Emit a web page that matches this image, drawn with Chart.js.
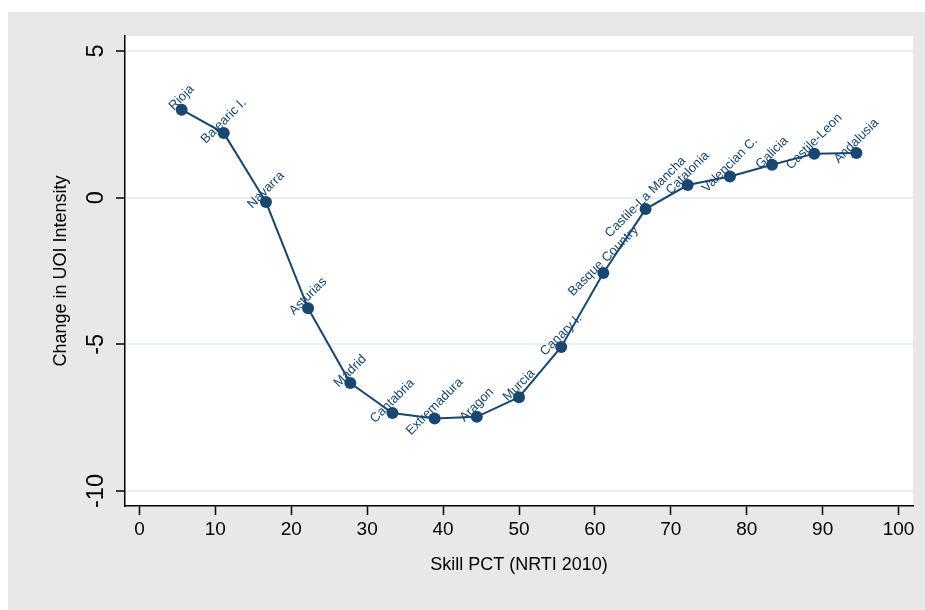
<!DOCTYPE html>
<html>
  <head>
    <title>Change in UOI Intensity vs Skill PCT</title>
    <script src="https://cdn.jsdelivr.net/npm/chart.js"></script>
    <style>
      body { margin: 0; background: #fff; }
      .chart-container { width: 925px; height: 610px; }
    </style>
  </head>
  <body>
    <div class="chart-container">
      <canvas id="uoi-chart" width="925" height="610"></canvas>
    </div>

    <script>
      // Regions ordered by skill percentile
      const regions = ['Rioja', 'Balearic I.', 'Navarra', 'Asturias', 'Madrid', 'Cantabria',
        'Extremadura', 'Aragon', 'Murcia', 'Canary I.', 'Basque Country', 'Castile-La Mancha',
        'Catalonia', 'Valencian C.', 'Galicia', 'Castile-Leon', 'Andalusia'];
      const skillPct = [5.56, 11.11, 16.67, 22.22, 27.78, 33.33, 38.89, 44.44, 50,
        55.56, 61.11, 66.67, 72.22, 77.78, 83.33, 88.89, 94.44];
      const uoiChange = [3.0, 2.2, -0.15, -3.77, -6.32, -7.34, -7.53, -7.47, -6.8,
        -5.09, -2.57, -0.39, 0.43, 0.72, 1.12, 1.5, 1.52];

      const xTicks = [0, 10, 20, 30, 40, 50, 60, 70, 80, 90, 100];
      const yTicks = [-10, -5, 0, 5];

      const navy = '#1a476f';
      const fontFamily = '"Liberation Sans", Arial, sans-serif';

      // gray graph region + white plot region, like Stata
      const backgroundPlugin = {
        id: 'background',
        beforeDraw(chart) {
          const { ctx, chartArea } = chart;
          ctx.save();
          ctx.fillStyle = '#fff';
          ctx.fillRect(0, 0, chart.width, chart.height);
          ctx.fillStyle = '#e8e8e8';
          ctx.fillRect(8, 12, chart.width - 8, chart.height - 12);
          ctx.fillStyle = '#fff';
          ctx.fillRect(chartArea.left, chartArea.top, chartArea.right - chartArea.left, chartArea.bottom - chartArea.top);
          ctx.restore();
        }
      };

      // region names, rotated 45 degrees above each marker
      const pointLabelPlugin = {
        id: 'pointLabels',
        beforeDatasetsDraw(chart) {
          const ctx = chart.ctx;
          const meta = chart.getDatasetMeta(0);
          ctx.save();
          ctx.font = '13px ' + fontFamily;
          ctx.fillStyle = navy;
          ctx.textAlign = 'center';
          ctx.textBaseline = 'middle';
          meta.data.forEach((pt, i) => {
            ctx.save();
            ctx.translate(pt.x, pt.y - 12);
            ctx.rotate(-Math.PI / 4);
            ctx.fillText(regions[i], 0, 0);
            ctx.restore();
          });
          ctx.restore();
        }
      };

      // vertical y tick labels
      const yTickLabelPlugin = {
        id: 'yTickLabels',
        afterDraw(chart) {
          const ctx = chart.ctx;
          const yScale = chart.scales.y;
          ctx.save();
          ctx.font = '23.5px ' + fontFamily;
          ctx.fillStyle = '#000';
          ctx.textAlign = 'center';
          ctx.textBaseline = 'middle';
          yTicks.forEach(v => {
            ctx.save();
            ctx.translate(yScale.left + 97, yScale.getPixelForValue(v));
            ctx.rotate(-Math.PI / 2);
            ctx.fillText(String(v), 0, 0);
            ctx.restore();
          });
          ctx.restore();
        }
      };

      const ctx = document.getElementById('uoi-chart').getContext('2d');
      new Chart(ctx, {
        type: 'scatter',
        data: {
          datasets: [{
            label: 'Change in UOI Intensity',
            data: skillPct.map((x, i) => ({ x: x, y: uoiChange[i] })),
            showLine: true,
            borderColor: navy,
            borderWidth: 2,
            backgroundColor: navy,
            pointRadius: 6,
            pointBorderWidth: 0,
            pointBackgroundColor: navy
          }]
        },
        options: {
          responsive: false,
          animation: false,
          layout: { padding: { top: 36, right: 12, left: 0, bottom: 0 } },
          plugins: {
            legend: { display: false },
            tooltip: { enabled: false }
          },
          scales: {
            x: {
              type: 'linear',
              min: -1.9,
              max: 101.9,
              afterBuildTicks: scale => { scale.ticks = xTicks.map(v => ({ value: v })); },
              afterFit: scale => { scale.height = 104; },
              border: { color: '#000', width: 1.5 },
              grid: { drawOnChartArea: false, drawTicks: true, tickLength: 9, tickColor: '#000', tickWidth: 1.5 },
              ticks: {
                color: '#000',
                padding: 3,
                maxRotation: 0,
                font: { family: fontFamily, size: 19 }
              },
              title: {
                display: true,
                text: 'Skill PCT (NRTI 2010)',
                color: '#000',
                padding: { top: 0, bottom: 34 },
                font: { family: fontFamily, size: 18 }
              }
            },
            y: {
              type: 'linear',
              min: -10.51,
              max: 5.51,
              afterBuildTicks: scale => { scale.ticks = yTicks.map(v => ({ value: v })); },
              afterFit: scale => { scale.width = 125; },
              border: { color: '#000', width: 1.5 },
              grid: { color: '#e8f0f2', lineWidth: 2, drawTicks: true, tickLength: 9, tickColor: '#000', tickWidth: 1.5 },
              ticks: { display: false },
              title: {
                display: true,
                text: 'Change in UOI Intensity',
                color: '#000',
                padding: { top: 50, bottom: 0 },
                font: { family: fontFamily, size: 18 }
              }
            }
          }
        },
        plugins: [backgroundPlugin, pointLabelPlugin, yTickLabelPlugin]
      });
    </script>
  </body>
</html>
